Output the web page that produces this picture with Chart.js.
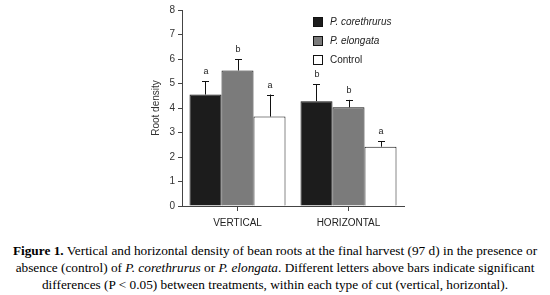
<!DOCTYPE html>
<html>
<head>
<meta charset="utf-8">
<script src="https://cdn.jsdelivr.net/npm/chart.js@4"></script>
<style>
  body { margin: 0; background: #fff; width: 550px; height: 295px; overflow: hidden; }
  #wrap { position: relative; width: 550px; height: 230px; }
  #caption {
    font-family: "Liberation Serif", "Times New Roman", serif;
    font-size: 13.3px; line-height: 17px; color: #000;
    text-align: center; margin-top: 12px; width: 550px;
  }
</style>
</head>
<body>
<div id="wrap"><canvas id="chart" width="550" height="230"></canvas></div>
<div id="caption">
  <b>Figure 1.</b> Vertical and horizontal density of bean roots at the final harvest (97 d) in the presence or<br>
  absence (control) of <i>P. corethrurus</i> or <i>P. elongata</i>. Different letters above bars indicate significant<br>
  differences (P &lt; 0.05) between treatments, within each type of cut (vertical, horizontal).
</div>
<script>
const categories = ['VERTICAL', 'HORIZONTAL'];
const seriesNames = ['P. corethrurus', 'P. elongata', 'Control'];
const corethrurus = [4.55, 4.28];
const elongata = [5.53, 4.03];
const control = [3.65, 2.42];
const corethrurusErr = [5.1, 4.98];
const elongataErr = [5.98, 4.33];
const controlErr = [4.55, 2.65];
const corethrurusLetters = ['a', 'b'];
const elongataLetters = ['b', 'b'];
const controlLetters = ['a', 'a'];
const yTicks = [0, 1, 2, 3, 4, 5, 6, 7, 8];

const errTops = [corethrurusErr, elongataErr, controlErr];
const letters = [corethrurusLetters, elongataLetters, controlLetters];

// error bars (upper whisker only) and significance letters
const errorBarPlugin = {
    id: 'errorBars',
    afterDatasetsDraw(chart) {
        const ctx = chart.ctx;
        const y = chart.scales.y;
        ctx.save();
        chart.data.datasets.forEach((ds, i) => {
            const meta = chart.getDatasetMeta(i);
            meta.data.forEach((bar, j) => {
                const top = y.getPixelForValue(errTops[i][j]);
                const base = bar.y;
                ctx.strokeStyle = '#111';
                ctx.lineWidth = 1;
                ctx.beginPath();
                ctx.moveTo(Math.round(bar.x) + 0.5, base);
                ctx.lineTo(Math.round(bar.x) + 0.5, top);
                ctx.moveTo(Math.round(bar.x) - 3, Math.round(top) + 0.5);
                ctx.lineTo(Math.round(bar.x) + 4, Math.round(top) + 0.5);
                ctx.stroke();
                ctx.fillStyle = '#222';
                ctx.font = '9px "Liberation Sans", Arial, sans-serif';
                ctx.textAlign = 'center';
                ctx.textBaseline = 'bottom';
                ctx.fillText(letters[i][j], bar.x + 0.5, top - 5);
            });
        });
        ctx.restore();
    }
};

// legend drawn in the upper right of the plot
const legendPlugin = {
    id: 'sideLegend',
    afterDraw(chart) {
        const ctx = chart.ctx;
        ctx.save();
        chart.data.datasets.forEach((ds, i) => {
            const cy = 22 + i * 19;
            ctx.fillStyle = ds.backgroundColor;
            ctx.fillRect(313.5, cy - 4.5, 9, 9);
            ctx.strokeStyle = '#111';
            ctx.lineWidth = 1;
            ctx.strokeRect(313.5, cy - 4.5, 9, 9);
            ctx.fillStyle = '#222';
            ctx.font = (i < 2 ? 'italic ' : '') + '10px "Liberation Sans", Arial, sans-serif';
            ctx.textAlign = 'left';
            ctx.textBaseline = 'middle';
            ctx.fillText(ds.label, 330, cy);
        });
        ctx.restore();
    }
};

new Chart(document.getElementById('chart').getContext('2d'), {
    type: 'bar',
    data: {
        labels: categories,
        datasets: [
            { label: seriesNames[0], data: corethrurus, backgroundColor: '#1c1c1c' },
            { label: seriesNames[1], data: elongata, backgroundColor: '#7b7b7b' },
            { label: seriesNames[2], data: control, backgroundColor: '#ffffff' }
        ].map(d => Object.assign(d, { borderColor: '#111', borderWidth: 1, categoryPercentage: 0.865, barPercentage: 1 }))
    },
    options: {
        responsive: false,
        animation: false,
        layout: { padding: { top: 10, right: 146, left: 146, bottom: 0 } },
        plugins: { legend: { display: false }, tooltip: { enabled: false } },
        scales: {
            x: {
                grid: { display: true, drawOnChartArea: false, offset: false, tickLength: 5, color: '#444' },
                border: { color: '#444' },
                ticks: { color: '#222', padding: 6, font: { family: '"Liberation Sans", Arial, sans-serif', size: 10 } },
                afterFit: s => { s.height = 24; }
            },
            y: {
                min: 0, max: 8,
                afterBuildTicks: s => { s.ticks = yTicks.map(v => ({ value: v })); },
                grid: { display: true, drawOnChartArea: false, tickLength: 4, color: '#444' },
                border: { color: '#444' },
                ticks: { color: '#333', padding: 3, font: { family: '"Liberation Sans", Arial, sans-serif', size: 10 } },
                title: { display: true, text: 'Root density', color: '#333', padding: 4, font: { family: '"Liberation Sans", Arial, sans-serif', size: 10 } },
                afterFit: s => { s.width = 36; }
            }
        }
    },
    plugins: [errorBarPlugin, legendPlugin]
});
</script>
</body>
</html>
